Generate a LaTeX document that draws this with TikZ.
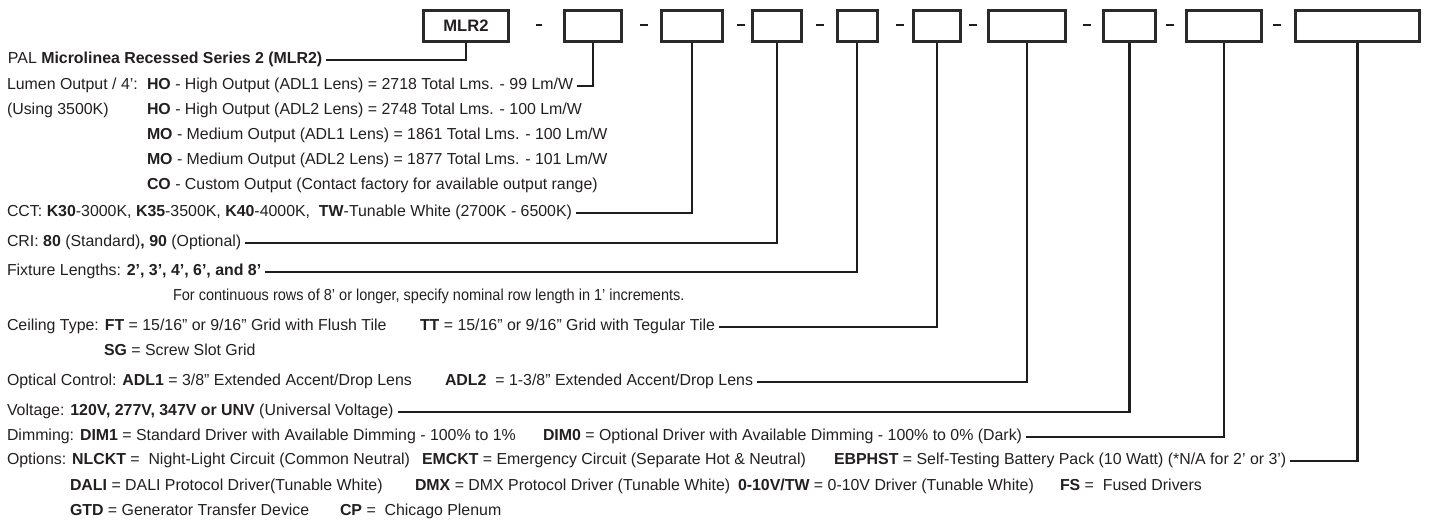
\documentclass[tikz,border=0pt]{standalone}
\usepackage{fontspec}
\setmainfont{Liberation Sans}
\usepackage{graphicx}
\definecolor{ink}{HTML}{231F20}
\definecolor{linec}{HTML}{1E1E1E}
\definecolor{boxc}{HTML}{2A2A2A}
\newcommand\fs{\fontsize{7.95pt}{9pt}\selectfont}
\tikzset{
  codebox/.style={draw=boxc, line width=1.5pt, inner sep=0pt, minimum height=15.5pt, font=\fontsize{8.3pt}{9pt}\selectfont\bfseries, text=ink},
  lead/.style={draw=linec, line width=1.25pt, line join=miter},
  dashbar/.style={draw=linec, line width=1.3pt},
  txt/.style={anchor=base west, inner sep=0pt, outer sep=0pt, font=\fs, text=ink},
}
\begin{document}
\begin{tikzpicture}[x=0.5pt, y=-0.5pt]
\useasboundingbox (0,0) rectangle (1442,523);
% code boxes
\node[codebox, minimum width=42.5pt] (b1) at (466,26) {MLR2};
\node[codebox, minimum width=28.5pt] (b2) at (593,26) {};
\node[codebox, minimum width=30.75pt] (b3) at (692,26) {};
\node[codebox, minimum width=24.5pt] (b4) at (777,26) {};
\node[codebox, minimum width=20pt] (b5) at (857,26) {};
\node[codebox, minimum width=23.5pt] (b6) at (937,26) {};
\node[codebox, minimum width=38.5pt] (b7) at (1027,26) {};
\node[codebox, minimum width=26pt] (b8) at (1129.5,26) {};
\node[codebox, minimum width=37.5pt] (b9) at (1224,26) {};
\node[codebox, minimum width=62pt] (b10) at (1357.5,26) {};
% dashes between boxes
\draw[dashbar] (535.5,25) -- (542,25);
\draw[dashbar] (640,25) -- (648,25);
\draw[dashbar] (737,25) -- (745,25);
\draw[dashbar] (816,25) -- (824,25);
\draw[dashbar] (896,25) -- (904,25);
\draw[dashbar] (969,25) -- (977,25);
\draw[dashbar] (1083,25) -- (1091,25);
\draw[dashbar] (1166,25) -- (1174,25);
\draw[dashbar] (1273,25) -- (1281,25);
% texts
\node[txt] (pal) at (8,64) {PAL \textbf{Microlinea Recessed Series 2 (MLR2)}};
\node[txt] (lum) at (7,90) {Lumen Output / 4’:};
\node[txt] (ho1) at (147,90) {\textbf{HO} - High Output (ADL1 Lens) = 2718 Total Lms. - 99 Lm/W};
\node[txt] (using) at (7,115) {(Using 3500K)};
\node[txt] (ho2) at (147,115) {\textbf{HO} - High Output (ADL2 Lens) = 2748 Total Lms. - 100 Lm/W};
\node[txt] (mo1) at (147,140) {\textbf{MO} - Medium Output (ADL1 Lens) = 1861 Total Lms. - 100 Lm/W};
\node[txt] (mo2) at (147,165) {\textbf{MO} - Medium Output (ADL2 Lens) = 1877 Total Lms. - 101 Lm/W};
\node[txt] (co) at (147,190) {\textbf{CO} - Custom Output (Contact factory for available output range)};
\node[txt] (cct) at (7,217) {CCT: \textbf{K30}-3000K, \textbf{K35}-3500K, \textbf{K40}-4000K,\ \ \textbf{TW}-Tunable White (2700K - 6500K)};
\node[txt] (cri) at (7,247) {CRI: \textbf{80} (Standard)\textbf{, 90} (Optional)};
\node[txt] (fix) at (7,276) {Fixture Lengths: \textbf{2’, 3’, 4’, 6’, and 8’}};
\node[txt] (cont) at (173,301) {\scalebox{0.913}[1]{For continuous rows of 8’ or longer, specify nominal row length in 1’ increments.}};
\node[txt] (ceil) at (7,331) {Ceiling Type: \textbf{FT} = 15/16” or 9/16” Grid with Flush Tile};
\node[txt] (tt) at (420,331) {\textbf{TT} = 15/16” or 9/16” Grid with Tegular Tile};
\node[txt] (sg) at (104,356) {\textbf{SG} = Screw Slot Grid};
\node[txt] (opt) at (7,386) {Optical Control: \textbf{ADL1} = 3/8” Extended Accent/Drop Lens};
\node[txt] (adl2) at (445,386) {\textbf{ADL2}\ \ = 1-3/8” Extended Accent/Drop Lens};
\node[txt] (volt) at (7,416) {Voltage: \textbf{120V, 277V, 347V or UNV} (Universal Voltage)};
\node[txt] (dim1) at (7,441) {Dimming: \textbf{DIM1} = Standard Driver with Available Dimming - 100\% to 1\%};
\node[txt] (dim0) at (543,441) {\textbf{DIM0} = Optional Driver with Available Dimming - 100\% to 0\% (Dark)};
\node[txt] (nlckt) at (7,465) {Options: \textbf{NLCKT} =\ \ Night-Light Circuit (Common Neutral)};
\node[txt] (emckt) at (422,465) {\textbf{EMCKT} = Emergency Circuit (Separate Hot \& Neutral)};
\node[txt] (ebphst) at (834,465) {\textbf{EBPHST} = Self-Testing Battery Pack (10 Watt) (*N/A for 2’ or 3’)};
\node[txt] (dali) at (70,491) {\textbf{DALI} = DALI Protocol Driver(Tunable White)};
\node[txt] (dmx) at (415,491) {\textbf{DMX} = DMX Protocol Driver (Tunable White)};
\node[txt] (tw) at (738,491) {\textbf{0-10V/TW} = 0-10V Driver (Tunable White)};
\node[txt] (fs) at (1060,491) {\textbf{FS} =\ \ Fused Drivers};
\node[txt] (gtd) at (70,516) {\textbf{GTD} = Generator Transfer Device};
\node[txt] (cp) at (340,516) {\textbf{CP} =\ \ Chicago Plenum};
% leader lines
\draw[lead] ([xshift=2pt,yshift=2pt]pal.base east) -| (b1.south);
\draw[lead] ([xshift=2pt,yshift=2pt]ho1.base east) -| (b2.south);
\draw[lead] ([xshift=2pt,yshift=2pt]cct.base east) -| (b3.south);
\draw[lead] ([xshift=2pt,yshift=2pt]cri.base east) -| (b4.south);
\draw[lead] ([xshift=2pt,yshift=2pt]fix.base east) -| (b5.south);
\draw[lead] ([xshift=2pt,yshift=2pt]tt.base east) -| (b6.south);
\draw[lead] ([xshift=2pt,yshift=2pt]adl2.base east) -| (b7.south);
\draw[lead] ([xshift=2pt,yshift=2pt]volt.base east) -| (b8.south);
\draw[lead] ([xshift=2pt,yshift=2pt]dim0.base east) -| (b9.south);
\draw[lead] ([xshift=2pt,yshift=2pt]ebphst.base east) -| (b10.south);
\end{tikzpicture}
\end{document}
